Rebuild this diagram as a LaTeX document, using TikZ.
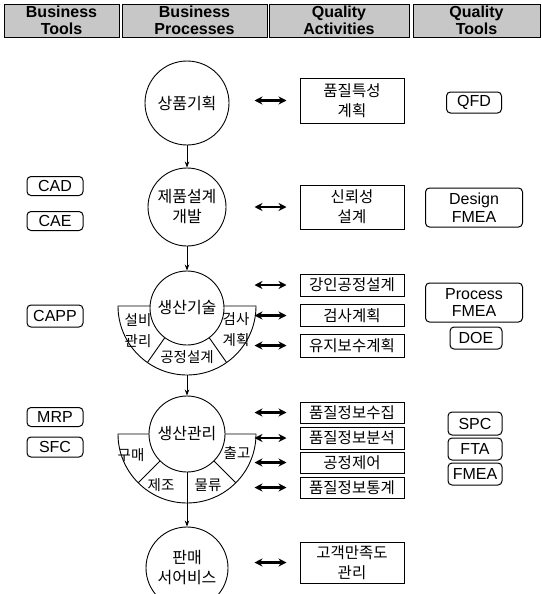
\documentclass[tikz,border=0pt]{standalone}
\usepackage{fontspec}
\setmainfont{Liberation Sans}
\newfontfamily\kr{Noto Sans CJK KR}
\usetikzlibrary{arrows.meta}

\begin{document}
\begin{tikzpicture}[
    x=1pt, y=-1pt,
    hdr/.style={draw=black,fill=black!22,line width=0.9pt,minimum height=33pt,inner sep=0pt,align=center,font=\fontsize{16}{16.5}\selectfont\bfseries},
    proc/.style={circle,draw=black,fill=white,line width=0.9pt,inner sep=0pt,align=center,font=\kr\fontsize{16}{20}\selectfont},
    act/.style={draw=black,fill=white,line width=1pt,minimum width=104pt,inner sep=0pt,align=center,font=\kr\fontsize{15.5}{20}\selectfont},
    tool/.style={draw=black,rounded corners=4pt,line width=1pt,inner sep=0pt,align=center,font=\fontsize{16}{17.5}\selectfont},
    sec/.style={inner sep=0pt,align=center,font=\kr\fontsize{14.5}{21}\selectfont},
    ring/.style={draw=black,fill=white,line width=0.9pt},
    down/.style={-{Stealth[length=6pt,width=4.5pt]},line width=0.7pt},
    dbl/.style={{Stealth[length=8pt,width=8pt]}-{Stealth[length=8pt,width=8pt]},line width=2.2pt}
]
    \useasboundingbox (0,0) rectangle (541,594);

    \node[hdr,minimum width=115pt] (h1) at (61.5,20.5) {Business\\Tools};
    \node[hdr,minimum width=145pt] (h2) at (194.5,20.5) {Business\\Processes};
    \node[hdr,minimum width=140pt] (h3) at (339,20.5) {Quality\\Activities};
    \node[hdr,minimum width=127pt] (h4) at (476.5,20.5) {Quality\\Tools};

    \coordinate (c3) at (187,306);
    \coordinate (c4) at (187,434);
    \coordinate (b3) at (187,375);

    \draw[ring] (118,306) -- (256,306) arc[start angle=0,end angle=-180,radius=69pt] -- cycle;
    \draw[line width=0.9pt] (c3) ++(-125:37pt) -- ++(-125:32pt);
    \draw[line width=0.9pt] (c3) ++(-55:37pt) -- ++(-55:32pt);
    \draw[ring] (118,434) -- (256,434) arc[start angle=0,end angle=-180,radius=69pt] -- cycle;
    \draw[line width=0.9pt] (c4) ++(-135:38pt) -- ++(-135:31pt);
    \draw[line width=0.9pt] (c4) ++(-45:38pt) -- ++(-45:31pt);

    \node[proc,minimum size=84pt] (p1) at (187,103) {상품기획};
    \node[proc,minimum size=78pt] (p2) at (187,207) {제품설계\\개발};
    \node[proc,minimum size=74pt] (p3) at (187,308) {생산기술};
    \node[proc,minimum size=76pt] (p4) at (187,434) {생산관리};
    \node[proc,minimum size=82pt] (p5) at (187,568) {판매\\서어비스};

    \node[sec] (s1) at (138,331) {설비\\관리};
    \node[sec] (s2) at (236,330) {검사\\계획};
    \node[sec] (s3) at (187,357) {공정설계};
    \node[sec] (s4) at (131,455) {구매};
    \node[sec] (s5) at (237,453) {출고};
    \node[sec] (s6) at (161,485) {제조};
    \node[sec] (s7) at (208,485) {물류};

    \draw[down] (p1) -- (p2);
    \draw[down] (p2) -- (p3);
    \draw[down] (b3) -- (p4);
    \draw[down] (p4.south) -- (p5);

    \node[act,minimum height=45pt] (q1) at (352,100.5) {품질특성\\계획};
    \node[act,minimum height=44pt] (q2) at (352,207) {신뢰성\\설계};
    \node[act,minimum height=22pt] (q3) at (352,285) {강인공정설계};
    \node[act,minimum height=22pt] (q4) at (352,315.5) {검사계획};
    \node[act,minimum height=23pt] (q5) at (352,345.5) {유지보수계획};
    \node[act,minimum height=21pt] (q6) at (352,412.5) {품질정보수집};
    \node[act,minimum height=22pt] (q7) at (352,438) {품질정보분석};
    \node[act,minimum height=21pt] (q8) at (352,462.5) {공정제어};
    \node[act,minimum height=21pt] (q9) at (352,487.5) {품질정보통계};
    \node[act,minimum height=41pt] (q10) at (352,562.5) {고객만족도\\관리};

    \foreach \q in {q1,q2,q3,q4,q5,q6,q7,q8,q9,q10}
        \draw[dbl] ([xshift=-45pt]\q.west) -- ([xshift=-13pt]\q.west);

    \node[tool,minimum width=56pt,minimum height=19pt] (bt1) at (55,186) {CAD};
    \node[tool,minimum width=56pt,minimum height=19pt] (bt2) at (55,221) {CAE};
    \node[tool,minimum width=56pt,minimum height=22pt] (bt3) at (55,316) {CAPP};
    \node[tool,minimum width=56pt,minimum height=19pt] (bt4) at (55,417) {MRP};
    \node[tool,minimum width=56pt,minimum height=20pt] (bt5) at (55,447) {SFC};

    \node[tool,minimum width=55pt,minimum height=21pt] (qt1) at (474,102.5) {QFD};
    \node[tool,minimum width=97pt,minimum height=39pt] (qt2) at (474,207.5) {Design\\FMEA};
    \node[tool,minimum width=97pt,minimum height=39pt] (qt3) at (474,302.5) {Process\\FMEA};
    \node[tool,minimum width=52pt,minimum height=22pt] (qt4) at (476,338) {DOE};
    \node[tool,minimum width=54pt,minimum height=23pt] (qt5) at (475,423.5) {SPC};
    \node[tool,minimum width=54pt,minimum height=22pt] (qt6) at (475,449) {FTA};
    \node[tool,minimum width=54pt,minimum height=22pt] (qt7) at (475,474) {FMEA};
\end{tikzpicture}
\end{document}
